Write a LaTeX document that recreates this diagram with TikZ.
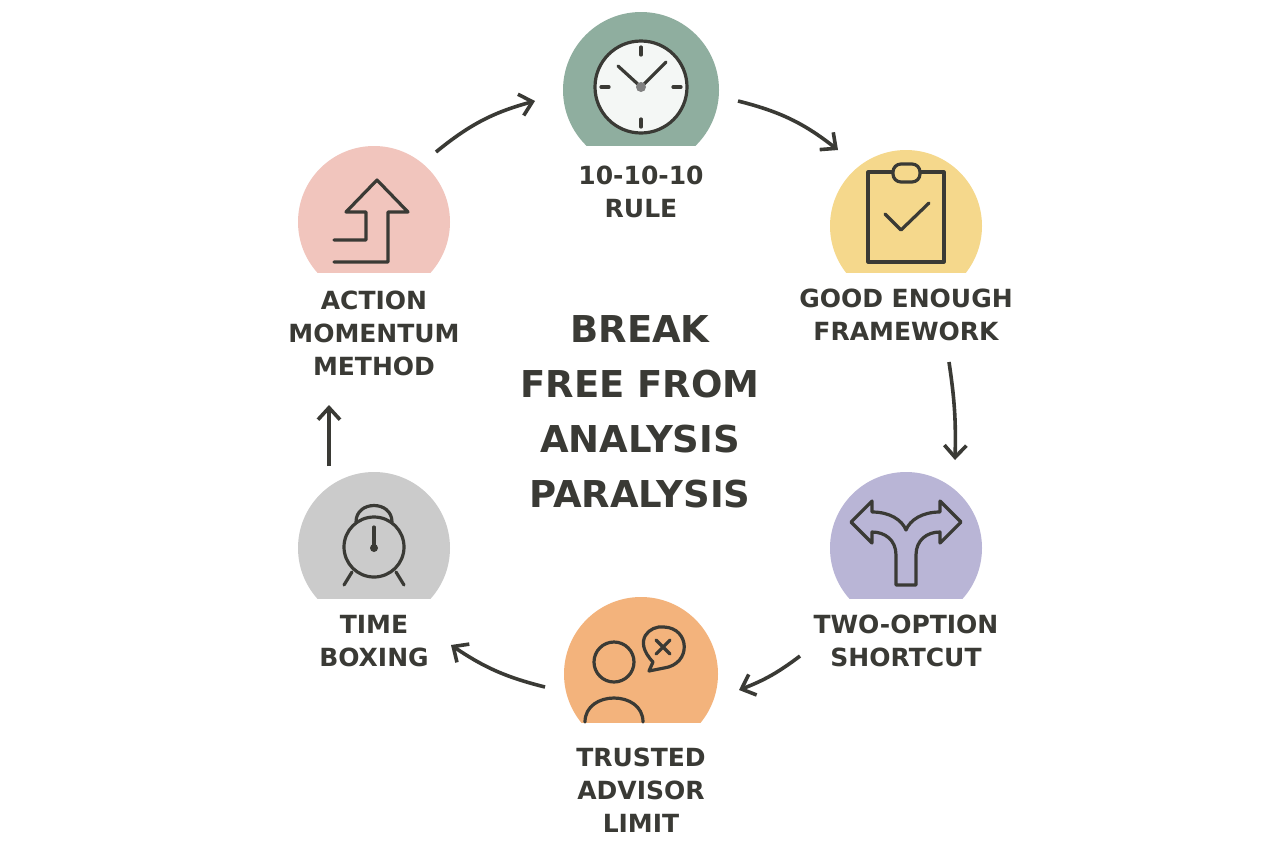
\documentclass[tikz,border=0pt]{standalone}
\usepackage{fontspec}
\setmainfont{DejaVu Sans}
\usetikzlibrary{arrows.meta}
\definecolor{ink}{HTML}{3A3A35}
\definecolor{cgreen}{HTML}{8FAE9F}
\definecolor{cyellow}{HTML}{F5D88C}
\definecolor{cpurple}{HTML}{B9B5D6}
\definecolor{corange}{HTML}{F3B37C}
\definecolor{cgray}{HTML}{CBCBCB}
\definecolor{cpink}{HTML}{F1C5BD}
\tikzset{
 lab/.style={font=\bfseries\fontsize{12.5}{16.5}\selectfont, text=ink, align=center},
 ttl/.style={font=\bfseries\fontsize{18.5}{27.5}\selectfont, text=ink, align=center},
 ico/.style={draw=ink, line width=1.6pt, line join=round, line cap=round},
 flow/.style={draw=ink, line width=1.8pt, -{Straight Barb[length=6pt,width=11pt,line width=1.8pt]}}
}
\newcommand{\blob}[5]{\begin{scope}\clip (#1-#3,#2-#3) rectangle (#1+#3,#4);
\fill[#5] (#1,#2) circle (#3);\end{scope}}
\begin{document}
\begin{tikzpicture}[x=0.5pt,y=-0.5pt]
\useasboundingbox (0,0) rectangle (1280,853);
\fill[white] (0,0) rectangle (1280,853);
% blobs
\blob{641}{90}{78}{145}{cgreen}
\blob{906}{226}{76}{272}{cyellow}
\blob{906}{548}{76}{598}{cpurple}
\blob{641}{674}{77}{722}{corange}
\blob{374}{548}{76}{598}{cgray}
\blob{374}{222}{76}{272}{cpink}
% clock
\draw[ico,fill=white!90!cgreen] (641,87) circle (46);
\draw[ico] (641,47)--(641,55) (641,119)--(641,127) (601,87)--(609,87) (673,87)--(681,87);
\draw[ico] (641,87)--(618,66) (641,87)--(666,62);
\fill[gray] (641,87) circle (5);
% clipboard
\draw[ico] (868,172) rectangle (944,262);
\draw[ico,fill=cyellow,rounded corners=4] (893,164) rectangle (920,182);
\draw[ico] (885,214)--(901,230)--(929,203);
% two option
\draw[ico] (896,585)--(896,555) .. controls (896,540) and (885,532) .. (872,532)--(872,543)--(851,522)--(872,501)--(872,512)
 .. controls (890,512) and (902,520) .. (906,530)
 .. controls (910,520) and (922,512) .. (940,512)--(940,501)--(961,522)--(940,543)--(940,532)
 .. controls (927,532) and (916,540) .. (916,555)--(916,585)--cycle;
% advisor
\draw[ico] (614,662) circle (20);
\draw[ico] (585,722) .. controls (585,690) and (643,690) .. (643,722);
\draw[ico,fill=corange] (649,671)--(653,662) .. controls (632,640) and (650,625) .. (664,627) .. controls (690,628) and (692,664) .. (664,668)--cycle;
\draw[ico] (656,640)--(670,654) (670,640)--(656,654);
% alarm
\draw[ico] (374,547) circle (30);
\draw[ico] (356,522) .. controls (356,500) and (392,500) .. (392,522);
\draw[ico] (352,572)--(344,585) (396,572)--(404,585);
\draw[ico] (374,547)--(374,527);
\fill[ink] (374,548) circle (4);
% action arrow
\draw[ico] (334,262)--(388,262)--(388,212)--(408,212)--(377,180)--(346,212)--(366,212)--(366,240)--(334,240);
% labels
\node[lab] (l1) at (641,192) {10-10-10\\RULE};
\node[lab] (l2) at (906,315) {GOOD ENOUGH\\FRAMEWORK};
\node[lab] (l3) at (906,641) {TWO-OPTION\\SHORTCUT};
\node[lab] (l4) at (641,790) {TRUSTED\\ADVISOR\\LIMIT};
\node[lab] (l5) at (374,641) {TIME\\BOXING};
\node[lab] (l6) at (374,333) {ACTION\\MOMENTUM\\METHOD};
\node[ttl] (t) at (640,412) {BREAK\\FREE FROM\\ANALYSIS\\PARALYSIS};
% connectors
\coordinate (a1) at (436,152); \coordinate (b1) at (535,101);
\coordinate (a2) at (738,101); \coordinate (b2) at (838,150);
\coordinate (a3) at (949,362); \coordinate (b3) at (955,460);
\coordinate (a4) at (800,656); \coordinate (b4) at (739,690);
\coordinate (a5) at (545,687); \coordinate (b5) at (451,645);
\coordinate (a6) at (329,466); \coordinate (b6) at (329,405);
\draw[flow] (a1) to[bend left=12] (b1);
\draw[flow] (a2) to[bend left=12] (b2);
\draw[flow] (a3) to[bend left=5] (b3);
\draw[flow] (a4) to[bend left=8] (b4);
\draw[flow] (a5) to[bend left=10] (b5);
\draw[flow] (a6) -- (b6);
\end{tikzpicture}
\end{document}
